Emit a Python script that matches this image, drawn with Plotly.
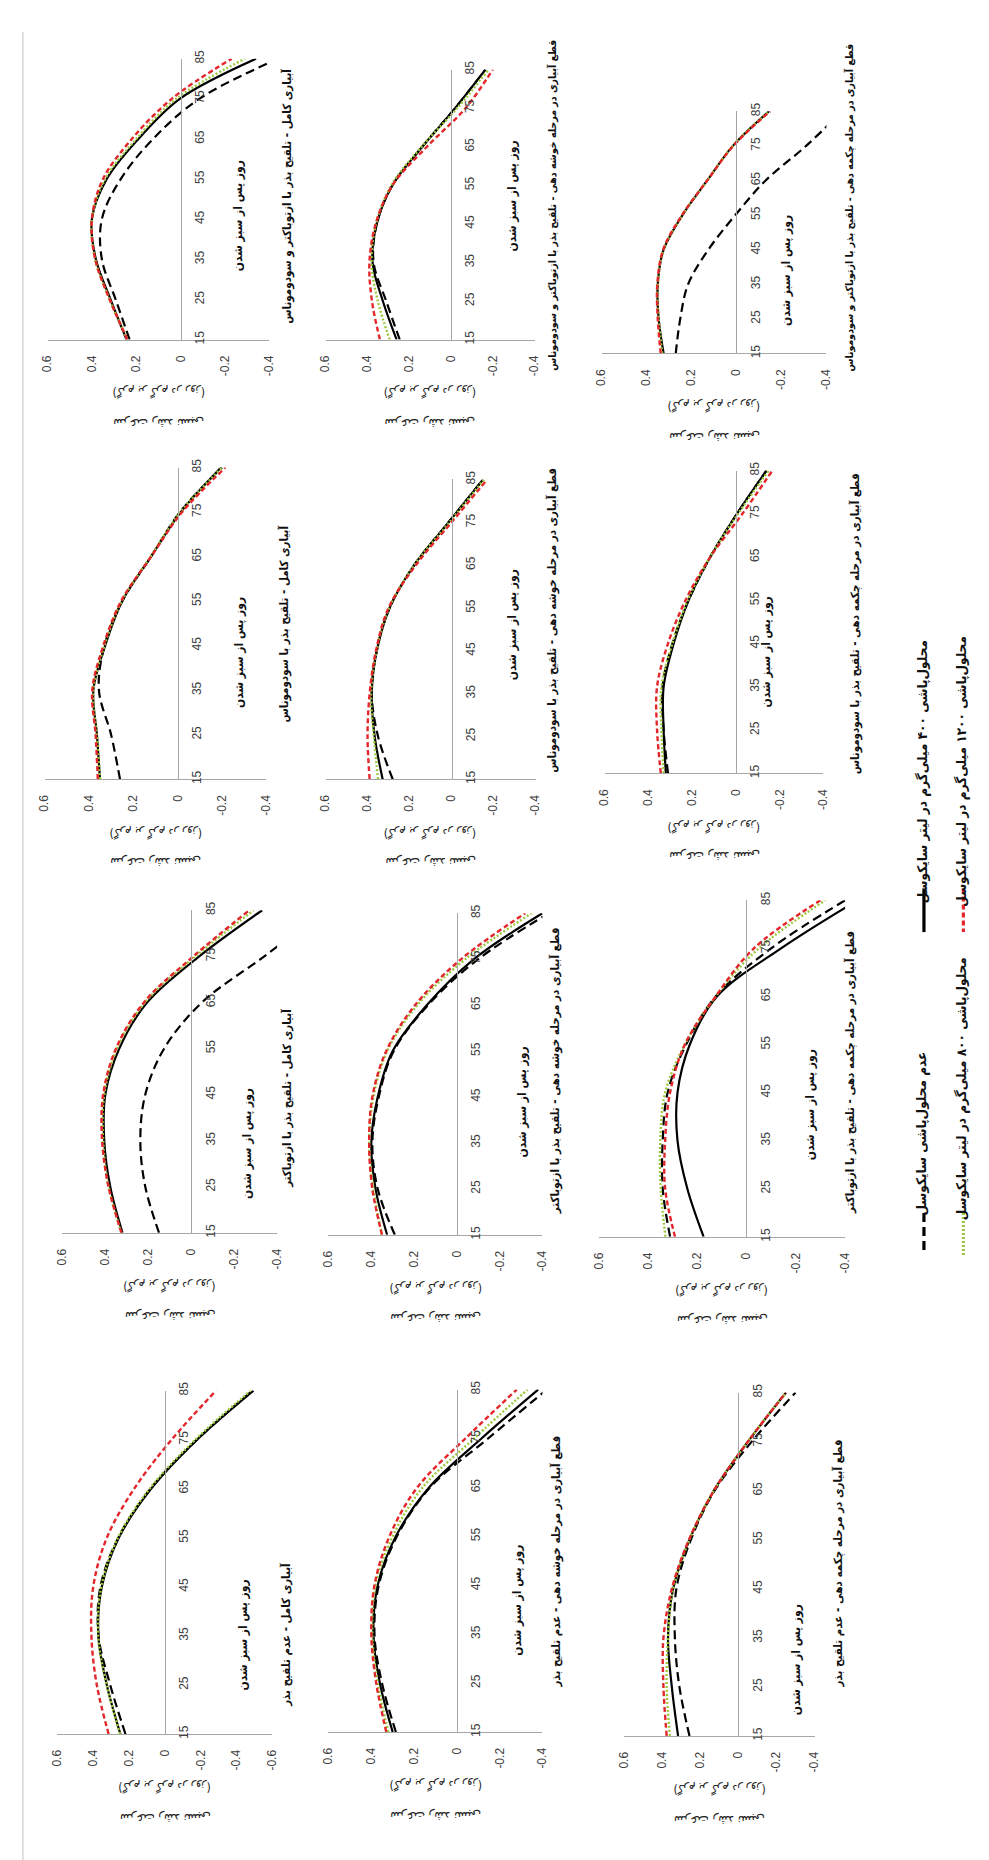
import plotly.graph_objects as go

W, H = 989, 1860

# ---------------- data ----------------
days = [15, 25, 35, 45, 55, 65, 75, 85]
value_ticks = [0.6, 0.4, 0.2, 0, -0.2, -0.4]
value_ticks_wide = [0.6, 0.4, 0.2, 0, -0.2, -0.4, -0.6]
value_ticktext = ["0.6", "0.4", "0.2", "0", "-0.2", "-0.4"]
value_ticktext_wide = ["0.6", "0.4", "0.2", "0", "-0.2", "-0.4", "-0.6"]

series_names = ["عدم محلول‌پاشی سایکوسل",
                "محلول‌پاشی ۴۰۰ میلی‌گرم در لیتر سایکوسل",
                "محلول‌پاشی ۸۰۰ میلی‌گرم در لیتر سایکوسل",
                "محلول‌پاشی ۱۲۰۰ میلی‌گرم در لیتر سایکوسل"]

panel_titles = [
    "آبیاری کامل - تلقیح بذر با ازتوباکتر و سودوموناس",
    "آبیاری کامل - تلقیح بذر با سودوموناس",
    "آبیاری کامل - تلقیح بذر با ازتوباکتر",
    "آبیاری کامل - عدم تلقیح بذر",
    "قطع آبیاری در مرحله خوشه دهی - تلقیح بذر با ازتوباکتر و سودوموناس",
    "قطع آبیاری در مرحله خوشه دهی - تلقیح بذر با سودوموناس",
    "قطع آبیاری در مرحله خوشه دهی - تلقیح بذر با ازتوباکتر",
    "قطع آبیاری در مرحله خوشه دهی - عدم تلقیح بذر",
    "قطع آبیاری در مرحله چکمه دهی - تلقیح بذر با ازتوباکتر و سودوموناس",
    "قطع آبیاری در مرحله چکمه دهی - تلقیح بذر با سودوموناس",
    "قطع آبیاری در مرحله چکمه دهی - تلقیح بذر با ازتوباکتر",
    "قطع آبیاری در مرحله چکمه دهی - عدم تلقیح بذر",
]
x_title = "روز پس از سبز شدن"
y_title_name = "سرعت رشد نسبی"
y_title_unit = "(گرم بر گرم در روز)"

# full irrigation
full_both_c0 = [0.23, 0.293, 0.355, 0.355, 0.27, 0.124, -0.084, -0.44]
full_both_c400 = [0.244, 0.316, 0.382, 0.40, 0.333, 0.19, 0.004, -0.34]
full_both_c800 = [0.24, 0.32, 0.385, 0.40, 0.34, 0.20, 0.02, -0.29]
full_both_c1200 = [0.24, 0.32, 0.385, 0.40, 0.35, 0.22, 0.04, -0.23]

full_pseudo_c0 = [0.26, 0.30, 0.355, 0.33, 0.25, 0.12, -0.01, -0.20]
full_pseudo_c400 = [0.35, 0.364, 0.38, 0.327, 0.25, 0.12, -0.014, -0.195]
full_pseudo_c800 = [0.35, 0.365, 0.38, 0.33, 0.252, 0.122, -0.012, -0.20]
full_pseudo_c1200 = [0.36, 0.37, 0.385, 0.335, 0.255, 0.12, -0.02, -0.215]

full_azoto_c0 = [0.15, 0.214, 0.237, 0.214, 0.126, -0.05, -0.34, -0.62]
full_azoto_c400 = [0.32, 0.377, 0.405, 0.40, 0.335, 0.205, -0.037, -0.33]
full_azoto_c800 = [0.325, 0.385, 0.41, 0.405, 0.345, 0.215, -0.02, -0.29]
full_azoto_c1200 = [0.325, 0.385, 0.415, 0.41, 0.35, 0.22, -0.01, -0.27]

full_none_c0 = [0.22, 0.305, 0.37, 0.36, 0.26, 0.08, -0.18, -0.49]
full_none_c400 = [0.248, 0.324, 0.371, 0.352, 0.257, 0.076, -0.18, -0.495]
full_none_c800 = [0.25, 0.325, 0.372, 0.355, 0.262, 0.085, -0.17, -0.48]
full_none_c1200 = [0.314, 0.38, 0.41, 0.40, 0.324, 0.171, -0.038, -0.286]

# irrigation cut at heading
head_both_c0 = [0.245, 0.31, 0.37, 0.355, 0.28, 0.137, -0.02, -0.165]
head_both_c400 = [0.26, 0.326, 0.375, 0.355, 0.28, 0.137, -0.02, -0.165]
head_both_c800 = [0.293, 0.35, 0.38, 0.358, 0.285, 0.14, -0.03, -0.18]
head_both_c1200 = [0.34, 0.378, 0.39, 0.36, 0.28, 0.115, -0.07, -0.20]

head_pseudo_c0 = [0.28, 0.35, 0.38, 0.356, 0.295, 0.178, 0.014, -0.15]
head_pseudo_c400 = [0.328, 0.366, 0.38, 0.356, 0.295, 0.178, 0.014, -0.15]
head_pseudo_c800 = [0.35, 0.37, 0.383, 0.357, 0.297, 0.178, 0.01, -0.155]
head_pseudo_c1200 = [0.39, 0.40, 0.39, 0.36, 0.30, 0.17, 0.0, -0.17]

head_azoto_c0 = [0.29, 0.37, 0.395, 0.365, 0.295, 0.135, -0.10, -0.43]
head_azoto_c400 = [0.326, 0.38, 0.40, 0.37, 0.30, 0.14, -0.08, -0.40]
head_azoto_c800 = [0.35, 0.39, 0.41, 0.39, 0.325, 0.185, -0.04, -0.35]
head_azoto_c1200 = [0.35, 0.395, 0.41, 0.395, 0.33, 0.195, -0.02, -0.32]

head_none_c0 = [0.285, 0.35, 0.385, 0.365, 0.28, 0.125, -0.146, -0.42]
head_none_c400 = [0.30, 0.36, 0.39, 0.37, 0.285, 0.13, -0.115, -0.38]
head_none_c800 = [0.32, 0.37, 0.395, 0.38, 0.30, 0.16, -0.08, -0.33]
head_none_c1200 = [0.33, 0.377, 0.40, 0.385, 0.315, 0.185, -0.04, -0.28]

# irrigation cut at booting
boot_both_c0 = [0.27, 0.25, 0.215, 0.125, 0.005, -0.13, -0.31, -0.47]
boot_both_c400 = [0.324, 0.346, 0.35, 0.324, 0.24, 0.13, 0.016, -0.145]
boot_both_c800 = [0.33, 0.346, 0.35, 0.324, 0.24, 0.13, 0.016, -0.145]
boot_both_c1200 = [0.337, 0.35, 0.352, 0.326, 0.242, 0.13, 0.014, -0.15]

boot_pseudo_c0 = [0.31, 0.33, 0.335, 0.29, 0.216, 0.117, -0.005, -0.14]
boot_pseudo_c400 = [0.32, 0.33, 0.33, 0.284, 0.216, 0.117, -0.005, -0.14]
boot_pseudo_c800 = [0.33, 0.34, 0.34, 0.29, 0.22, 0.118, -0.01, -0.15]
boot_pseudo_c1200 = [0.343, 0.36, 0.36, 0.31, 0.23, 0.117, -0.03, -0.167]

boot_azoto_c0 = [0.31, 0.34, 0.34, 0.32, 0.245, 0.125, -0.10, -0.40]
boot_azoto_c400 = [0.174, 0.24, 0.28, 0.28, 0.23, 0.12, -0.14, -0.45]
boot_azoto_c800 = [0.329, 0.348, 0.35, 0.33, 0.25, 0.125, -0.05, -0.32]
boot_azoto_c1200 = [0.29, 0.33, 0.33, 0.31, 0.25, 0.125, -0.03, -0.30]

boot_none_c0 = [0.257, 0.31, 0.334, 0.326, 0.25, 0.125, -0.07, -0.30]
boot_none_c400 = [0.317, 0.35, 0.37, 0.343, 0.257, 0.129, -0.05, -0.25]
boot_none_c800 = [0.36, 0.377, 0.37, 0.343, 0.257, 0.129, -0.05, -0.25]
boot_none_c1200 = [0.377, 0.394, 0.394, 0.35, 0.26, 0.129, -0.05, -0.25]

panel_series = [
    [full_both_c0, full_both_c400, full_both_c800, full_both_c1200],
    [full_pseudo_c0, full_pseudo_c400, full_pseudo_c800, full_pseudo_c1200],
    [full_azoto_c0, full_azoto_c400, full_azoto_c800, full_azoto_c1200],
    [full_none_c0, full_none_c400, full_none_c800, full_none_c1200],
    [head_both_c0, head_both_c400, head_both_c800, head_both_c1200],
    [head_pseudo_c0, head_pseudo_c400, head_pseudo_c800, head_pseudo_c1200],
    [head_azoto_c0, head_azoto_c400, head_azoto_c800, head_azoto_c1200],
    [head_none_c0, head_none_c400, head_none_c800, head_none_c1200],
    [boot_both_c0, boot_both_c400, boot_both_c800, boot_both_c1200],
    [boot_pseudo_c0, boot_pseudo_c400, boot_pseudo_c800, boot_pseudo_c1200],
    [boot_azoto_c0, boot_azoto_c400, boot_azoto_c800, boot_azoto_c1200],
    [boot_none_c0, boot_none_c400, boot_none_c800, boot_none_c1200],
]
panel_min = [-0.4, -0.4, -0.4, -0.6, -0.4, -0.4, -0.4, -0.4, -0.4, -0.4, -0.4, -0.4]

# ---------------- layout geometry (pixels) ----------------
# x0 (value 0.6), x1 (axis min), ytop (day 85), ybot (day 15),
# x-title pos, panel-title pos
geom = [
    (33, 258, 42, 325, (227, 200), (277, 181)),
    (30, 255, 454, 768, (227, 640), (273, 612)),
    (48, 266, 900, 1225, (236, 1135), (277, 1090)),
    (43, 261, 1384, 1730, (232, 1630), (275, 1630)),
    (315, 527, 53, 325, (505, 180), (545, 190)),
    (315, 528, 466, 768, (505, 612), (545, 608)),
    (318, 535, 903, 1227, (515, 1093), (548, 1062)),
    (318, 535, 1383, 1728, (510, 1595), (549, 1556)),
    (595, 823, 95, 339, (782, 255), (847, 192)),
    (598, 820, 457, 762, (762, 640), (852, 611)),
    (592, 842, 890, 1229, (807, 1096), (848, 1063)),
    (618, 811, 1386, 1732, (793, 1655), (835, 1558)),
]

styles = [
    dict(color="#000000", width=2.2, dash="9px,5px"),
    dict(color="#000000", width=2.2, dash="solid"),
    dict(color="#9CC83C", width=2.4, dash="2px,2px"),
    dict(color="#E3262B", width=2.4, dash="5px,3px"),
]

AXIS_GRAY = "#A6A6A6"
NUM_FONT = dict(family="Liberation Sans Narrow, Liberation Sans, Arial", size=12, color="#404040")
FA_FONT = "DejaVu Sans Condensed, DejaVu Sans, sans-serif"


def px(x, y):
    return x / W, 1 - y / H


fig = go.Figure()
annotations = []
layout_axes = {}

for i in range(12):
    n = i + 1
    xs = "" if n == 1 else str(n)
    x0, x1, ytop, ybot, xt, tt = geom[i]
    vmin = panel_min[i]
    for k in range(4):
        fig.add_trace(go.Scatter(
            x=panel_series[i][k], y=days, mode="lines",
            line=dict(shape="spline", smoothing=1.0, **styles[k]),
            name=series_names[k], showlegend=False,
            xaxis="x" + xs, yaxis="y" + xs,
        ))
    zero_px = x0 + (0.6 - 0) / (0.6 - vmin) * (x1 - x0)
    ticks = value_ticks_wide if vmin < -0.5 else value_ticks
    ttext = value_ticktext_wide if vmin < -0.5 else value_ticktext
    layout_axes["xaxis" + xs] = dict(
        domain=[x0 / W, x1 / W], range=[0.6, vmin], anchor="y" + xs, side="bottom",
        showline=True, linecolor=AXIS_GRAY, linewidth=1.3, showgrid=False, zeroline=False,
        tickvals=ticks, ticktext=ttext, tickangle=-90, ticks="",
        ticklabelstandoff=10, tickfont=NUM_FONT, fixedrange=True,
    )
    layout_axes["yaxis" + xs] = dict(
        domain=[1 - ybot / H, 1 - ytop / H], range=[15, 85], anchor="free",
        position=zero_px / W, side="right", showline=True, linecolor=AXIS_GRAY,
        linewidth=1.3, showgrid=False, zeroline=False, tickvals=days,
        ticktext=[str(d) for d in days], tickangle=-90, ticks="",
        ticklabelstandoff=8, tickfont=NUM_FONT, fixedrange=True,
    )
    # x-axis (days) title
    ax, ay = px(*xt)
    annotations.append(dict(x=ax, y=ay, xref="paper", yref="paper", text="<b>" + x_title + "</b>",
                            textangle=-90, showarrow=False, xanchor="center", yanchor="middle",
                            font=dict(family=FA_FONT, size=12, color="#111")))
    # panel title
    ax, ay = px(*tt)
    tsize = 11.5 if len(panel_titles[i]) < 55 else 10.5
    annotations.append(dict(x=ax, y=ay, xref="paper", yref="paper", text="<b>" + panel_titles[i] + "</b>",
                            textangle=-90, showarrow=False, xanchor="center", yanchor="middle",
                            font=dict(family=FA_FONT, size=tsize, color="#111")))
    # value-axis title (upside-down, as in the reference)
    cx = (x0 + x1) / 2
    ax, ay = px(cx, ybot + 53)
    annotations.append(dict(x=ax, y=ay, xref="paper", yref="paper", text=y_title_unit,
                            textangle=180, showarrow=False, xanchor="center", yanchor="middle",
                            font=dict(family=FA_FONT, size=12, color="#222")))
    ax, ay = px(cx, ybot + 84)
    annotations.append(dict(x=ax, y=ay, xref="paper", yref="paper", text=y_title_name,
                            textangle=180, showarrow=False, xanchor="center", yanchor="middle",
                            font=dict(family=FA_FONT, size=13, color="#222")))

# ---------------- legend (rotated, drawn manually) ----------------
legend_items = [
    # (series index, column x, text center y, marker y0, marker y1)
    (1, 922, 760, 878, 922),
    (3, 962, 760, 878, 922),
    (0, 922, 1125, 1205, 1245),
    (2, 962, 1080, 1205, 1248),
]
shapes = []
for k, lx, ty, my0, my1 in legend_items:
    st = styles[k]
    shapes.append(dict(type="line", xref="paper", yref="paper",
                       x0=lx / W, x1=lx / W, y0=1 - my0 / H, y1=1 - my1 / H,
                       line=dict(color=st["color"], width=3.2, dash=st["dash"])))
    ax, ay = px(lx - 2, ty)
    annotations.append(dict(x=ax, y=ay, xref="paper", yref="paper", text="<b>" + series_names[k] + "</b>",
                            textangle=-90, showarrow=False, xanchor="center", yanchor="middle",
                            font=dict(family=FA_FONT, size=13.5, color="#111")))

# page border line at left
shapes.append(dict(type="line", xref="paper", yref="paper", x0=8 / W, x1=8 / W, y0=0, y1=1 - 15 / H,
                   line=dict(color="#D6D6D6", width=1.5)))

fig.update_layout(
    width=W, height=H, margin=dict(l=0, r=0, t=0, b=0),
    paper_bgcolor="white", plot_bgcolor="rgba(0,0,0,0)",
    showlegend=False, annotations=annotations, shapes=shapes,
    **layout_axes,
)

fig.write_html("out.html")
